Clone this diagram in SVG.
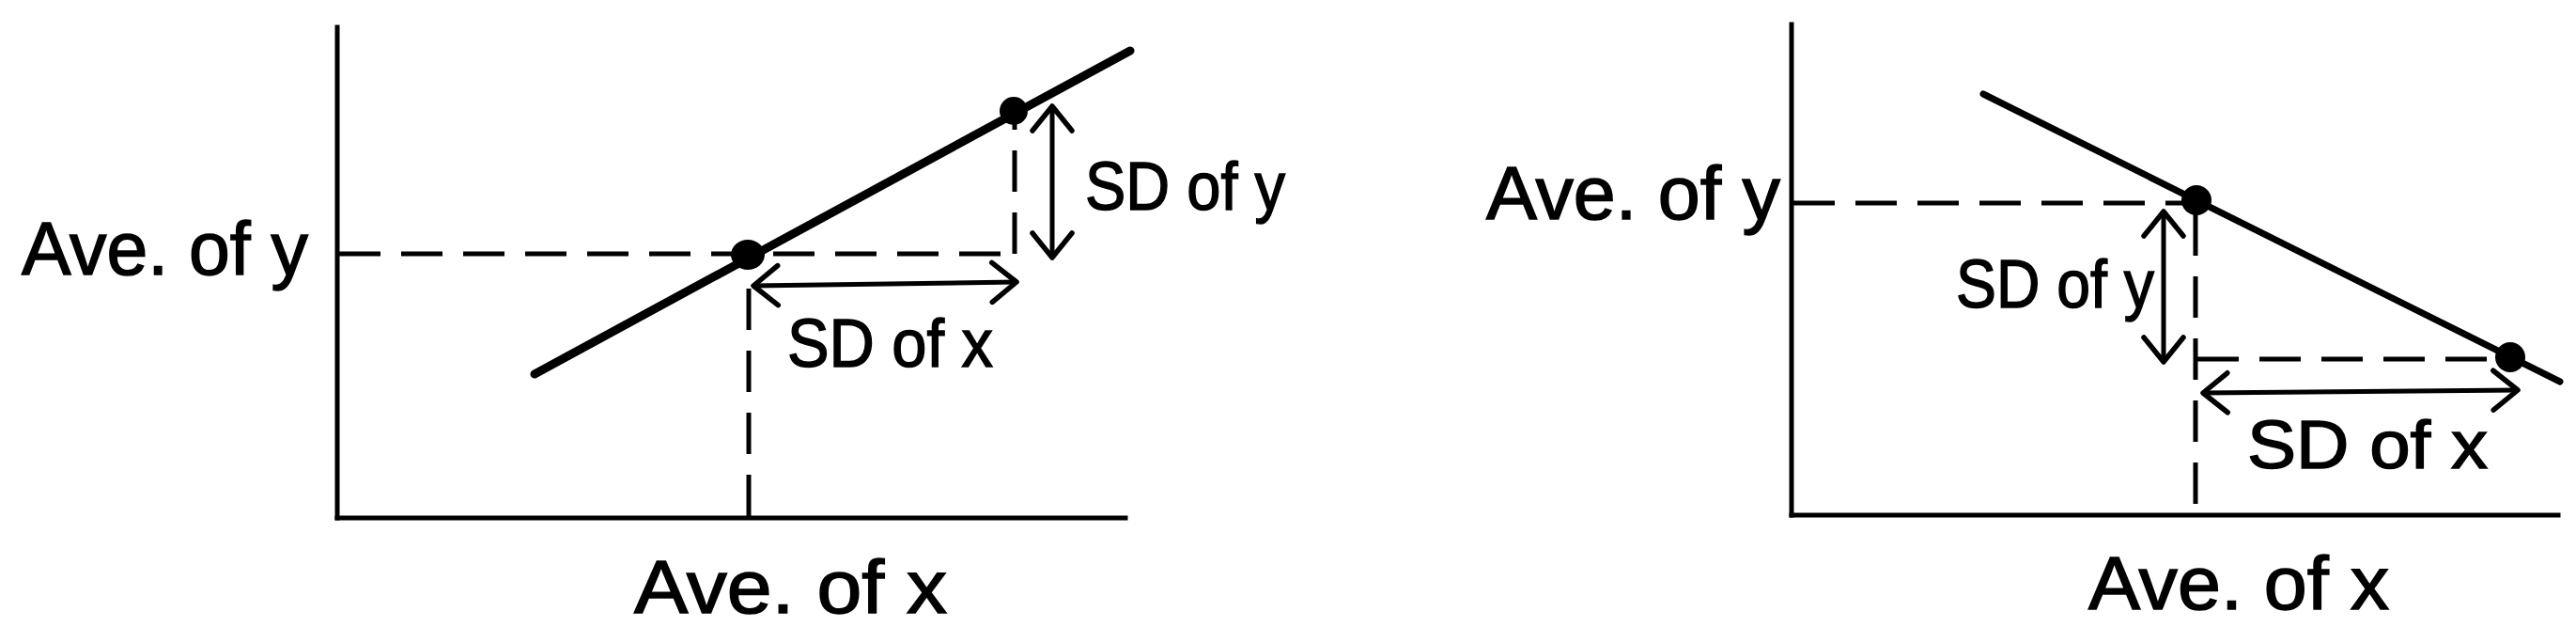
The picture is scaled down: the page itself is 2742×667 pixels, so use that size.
<svg xmlns="http://www.w3.org/2000/svg" width="2742" height="667" viewBox="0 0 2742 667">
  <style>
    .axis { stroke: #000; stroke-width: 5; fill: none; stroke-linecap: square; }
    .reg { stroke: #000; stroke-width: 7; fill: none; stroke-linecap: round; }
    .regl { stroke-width: 9; }
    .dash { stroke: #000; stroke-width: 5; fill: none; stroke-dasharray: 44 22; }
    .arrow { stroke: #000; stroke-width: 5; fill: none; marker-start: url(#head); marker-end: url(#head); }
    .dot { fill: #000; }
    .lbl { font-family: "Liberation Sans", Arial, sans-serif; font-size: 80px; fill: #000; stroke: #000; stroke-width: 1.5; }
    .sd { font-family: "Liberation Sans", Arial, sans-serif; font-size: 73px; fill: #000; stroke: #000; stroke-width: 1.5; }
  </style>
  <defs>
    <marker id="head" markerUnits="userSpaceOnUse" markerWidth="40" markerHeight="50" refX="30" refY="24" orient="auto-start-reverse" viewBox="0 0 40 50">
      <path d="M 4 3 L 30 24 L 4 45" fill="none" stroke="#000" stroke-width="5.5" stroke-linecap="round" stroke-linejoin="round"/>
    </marker>
  </defs>

  <rect width="2742" height="667" fill="#fff"/>

  <!-- Left panel -->
  <g id="left-axes">
    <line class="axis" x1="359" y1="29" x2="359" y2="551"/>
    <line class="axis" x1="359" y1="551" x2="1198" y2="551"/>
  </g>
  <g id="left-connectors">
    <line class="dash" x1="361" y1="270" x2="1080" y2="270"/>
    <line class="dash" x1="1080" y1="270" x2="1080" y2="128"/>
    <line class="dash" x1="797" y1="549" x2="797" y2="284"/>
    <line class="arrow" x1="1120" y1="113" x2="1120" y2="274"/>
    <line class="arrow" x1="802" y1="304" x2="1082" y2="300"/>
  </g>
  <g id="left-line">
    <line class="reg regl" x1="569" y1="398" x2="1203" y2="54"/>
  </g>
  <g id="left-ave-point"><ellipse class="dot" cx="796" cy="271" rx="18" ry="16"/></g>
  <g id="left-sd-point"><circle class="dot" cx="1079" cy="118" r="15"/></g>
  <g id="left-ave-y"><text class="lbl" x="23" y="292" textLength="305" lengthAdjust="spacingAndGlyphs">Ave. of y</text></g>
  <g id="left-ave-x"><text class="lbl" x="675" y="652" textLength="333" lengthAdjust="spacingAndGlyphs">Ave. of x</text></g>
  <g id="left-sd-y"><text class="sd" x="1155" y="223" textLength="213" lengthAdjust="spacingAndGlyphs">SD of y</text></g>
  <g id="left-sd-x"><text class="sd" x="838" y="390" textLength="219" lengthAdjust="spacingAndGlyphs">SD of x</text></g>

  <!-- Right panel -->
  <g id="right-axes">
    <line class="axis" x1="1907" y1="26" x2="1907" y2="548"/>
    <line class="axis" x1="1907" y1="548" x2="2723" y2="548"/>
  </g>
  <g id="right-connectors">
    <line class="dash" x1="1909" y1="216" x2="2330" y2="216"/>
    <line class="dash" x1="2337" y1="228" x2="2337" y2="546"/>
    <line class="dash" x1="2339" y1="382" x2="2668" y2="382"/>
    <line class="arrow" x1="2303" y1="225" x2="2303" y2="385"/>
    <line class="arrow" x1="2345" y1="418" x2="2680" y2="415"/>
  </g>
  <g id="right-line">
    <line class="reg" x1="2111" y1="100" x2="2725" y2="406"/>
  </g>
  <g id="right-ave-point"><circle class="dot" cx="2338" cy="213" r="16"/></g>
  <g id="right-sd-point"><circle class="dot" cx="2672" cy="380" r="16"/></g>
  <g id="right-ave-y"><text class="lbl" x="1582" y="233" textLength="313" lengthAdjust="spacingAndGlyphs">Ave. of y</text></g>
  <g id="right-ave-x"><text class="lbl" x="2223" y="648" textLength="320" lengthAdjust="spacingAndGlyphs">Ave. of x</text></g>
  <g id="right-sd-y"><text class="sd" x="2082" y="327" textLength="211" lengthAdjust="spacingAndGlyphs">SD of y</text></g>
  <g id="right-sd-x"><text class="sd" x="2392" y="498" textLength="256" lengthAdjust="spacingAndGlyphs">SD of x</text></g>
</svg>
